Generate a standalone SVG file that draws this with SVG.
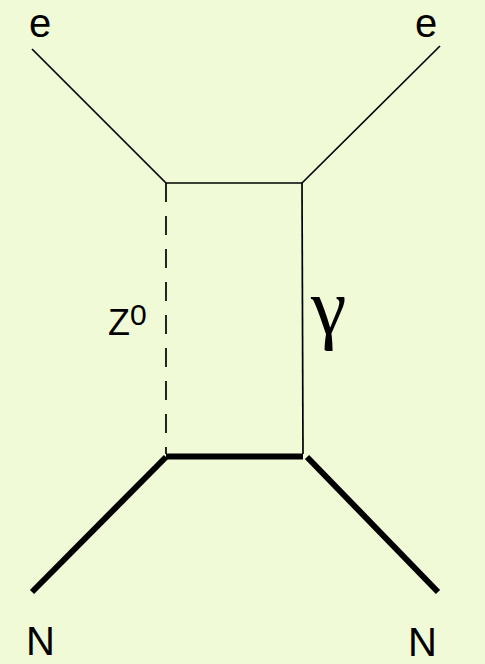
<svg xmlns="http://www.w3.org/2000/svg" width="485" height="664" viewBox="0 0 485 664">
<style>
.thin{stroke:#000;stroke-width:1.7;fill:none}
.thick{stroke:#000;stroke-width:6;fill:none}
.dash{stroke:#000;stroke-width:1.7;fill:none;stroke-dasharray:19 14}
.lbl{font-family:"Liberation Sans",Arial,sans-serif;fill:#000}
</style>
<rect width="485" height="664" fill="#F0FAD7"/>
<g id="connectors">
<line class="thin" x1="32" y1="49" x2="166" y2="183"/>
<line class="thin" x1="440" y1="46" x2="302" y2="183"/>
<line class="thin" x1="166" y1="183" x2="302" y2="183"/>
<line class="dash" x1="166" y1="183" x2="166" y2="454"/>
<line class="thin" x1="302" y1="183" x2="303" y2="454"/>
<line class="thick" x1="166" y1="456.5" x2="303" y2="456.5"/>
<line class="thick" x1="166" y1="457" x2="32" y2="592"/>
<line class="thick" x1="307" y1="457" x2="438" y2="592"/>
</g>
<g id="e-left"><text class="lbl" x="29" y="36.5" font-size="40">e</text></g>
<g id="e-right"><text class="lbl" x="415" y="36.5" font-size="40">e</text></g>
<g id="N-left"><text class="lbl" x="26" y="655" font-size="40">N</text></g>
<g id="N-right"><text class="lbl" x="408" y="655.5" font-size="40">N</text></g>
<g id="Z0"><text class="lbl" x="108" y="335" font-size="36">Z<tspan font-size="30" dy="-10">0</tspan></text></g>
<g id="gamma"><text x="311" y="334" font-size="80" font-family="'Liberation Serif','Times New Roman',serif">γ</text></g>
</svg>
